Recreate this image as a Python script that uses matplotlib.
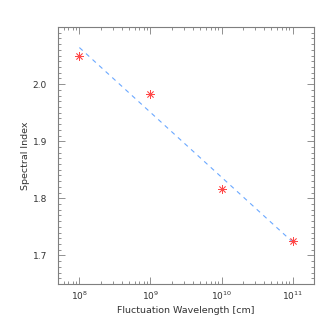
import matplotlib
matplotlib.use("Agg")
import matplotlib.pyplot as plt
import numpy as np
from matplotlib.ticker import LogLocator, MultipleLocator, FixedLocator

# measured spectral index vs. fluctuation wavelength
wavelength_cm = [1e8, 1e9, 1e10, 1e11]
spectral_index = [2.049, 1.983, 1.817, 1.726]
y_ticks = [1.7, 1.8, 1.9, 2.0]

AXIS_GREY = "#7f7f7f"

# straight-line fit in log10(wavelength)
log_wl = np.log10(wavelength_cm)
slope, intercept = np.polyfit(log_wl, spectral_index, 1)
fit_y = slope * log_wl + intercept

fig = plt.figure(figsize=(3.32, 3.32), dpi=100)
ax = fig.add_axes([58 / 332, 1 - 284 / 332, 256 / 332, 257 / 332])

ax.plot(wavelength_cm, fit_y, linestyle=(0, (4, 4)), color="#6aa8ff", linewidth=0.8)
ax.plot(wavelength_cm, spectral_index, linestyle="none", marker=(8, 2, 0),
        markersize=6, markeredgecolor="#ff4848", markeredgewidth=0.55)

ax.set_xscale("log")
ax.set_xlim(5e7, 2e11)
ax.set_ylim(1.65, 2.1)
ax.yaxis.set_major_locator(FixedLocator(y_ticks))
ax.yaxis.set_minor_locator(MultipleLocator(0.01))
ax.xaxis.set_major_locator(LogLocator(base=10, numticks=10))
ax.xaxis.set_minor_locator(LogLocator(base=10, subs=np.arange(2, 10), numticks=10))
ax.yaxis.set_major_formatter(matplotlib.ticker.FormatStrFormatter("%.1f"))

for spine in ax.spines.values():
    spine.set_color(AXIS_GREY)
    spine.set_linewidth(0.8)
ax.tick_params(which="both", direction="in", top=True, right=True,
               color=AXIS_GREY, labelsize=6.5, labelcolor="#333333", width=0.6)
ax.tick_params(which="major", length=5)
ax.tick_params(which="minor", length=2.5)
ax.tick_params(axis="x", which="major", pad=4)
ax.tick_params(axis="y", which="major", pad=8)

ax.set_xlabel("Fluctuation Wavelength [cm]", fontsize=6.8, color="#333333", labelpad=3)
ax.set_ylabel("Spectral Index", fontsize=6.8, color="#333333", labelpad=2)

fig.savefig("out.png", dpi=100)
